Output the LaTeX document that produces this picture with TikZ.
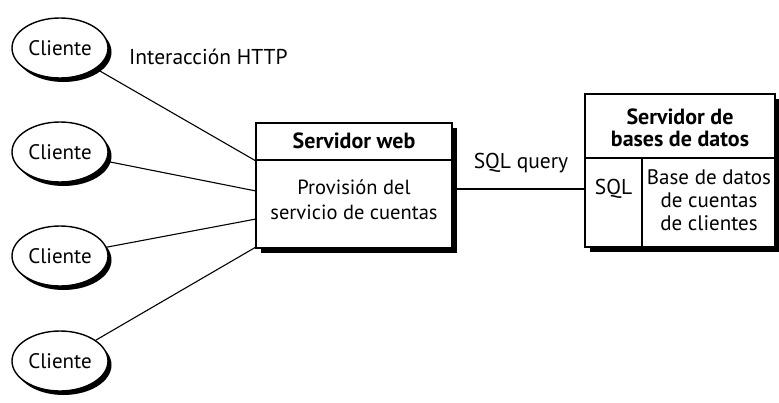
\documentclass[tikz,border=0pt]{standalone}
\usepackage{fontspec}
\setmainfont{PT Sans}
\usetikzlibrary{shadows,shapes.geometric}
\begin{document}
\begin{tikzpicture}[x=1pt,y=-1pt,
  client/.style={ellipse,draw,line width=1.4pt,fill=white,minimum width=96pt,minimum height=60pt,inner sep=0pt,
    font=\fontsize{21}{24}\selectfont,
    drop shadow={shadow xshift=3.5pt,shadow yshift=-4pt,fill=black,opacity=1}},
  srvbox/.style={rectangle,draw,line width=1.6pt,fill=white,inner sep=0pt,
    drop shadow={shadow xshift=5pt,shadow yshift=-4.5pt,fill=black,opacity=1}},
  head/.style={font=\fontsize{22}{22}\selectfont\bfseries,align=center,inner sep=0pt},
  body/.style={font=\fontsize{20.5}{25}\selectfont,align=center,inner sep=0pt},
  lbl/.style={font=\fontsize{21.5}{24}\selectfont,inner sep=0pt},
  link/.style={line width=1.1pt}]
\useasboundingbox (0,0) rectangle (779,402);

% clients
\node[client] (c1) at (60,48) {Cliente};
\node[client] (c2) at (60,152) {Cliente};
\node[client] (c3) at (60,256) {Cliente};
\node[client] (c4) at (60,361) {Cliente};

\node[lbl,anchor=west] (http) at (129,57) {Interacción HTTP};

% web server
\node[srvbox,minimum width=196pt,minimum height=125pt] (web) at (354,185.5) {};
\draw[line width=1.4pt] (web.west |- 0,160) -- (web.east |- 0,160);
\node[head] (webh) at (354,141) {Servidor web};
\node[body] (webb) at (354,200) {Provisión del\\servicio de cuentas};

% db server
\node[srvbox,minimum width=190pt,minimum height=153pt] (db) at (680,170.5) {};
\draw[line width=1.4pt] (db.west |- 0,158) -- (db.east |- 0,158);
\draw[line width=1.2pt] (642,158) -- (db.south -| 642,0);
\node[head] (dbh) at (680,128) {Servidor de\\bases de datos};
\node[lbl] (sql) at (613.5,189) {SQL};
\node[body,font=\fontsize{21}{23}\selectfont] (dbb) at (709,200) {Base de datos\\de cuentas\\de clientes};

% connection points on web box
\coordinate (p1) at (256,161);
\coordinate (p2) at (256,191);
\coordinate (p3) at (256,219);
\coordinate (p4) at (256,247);
\coordinate (wq) at (452,189);

\draw[link] (c1) -- (p1);
\draw[link] (c2) -- (p2);
\draw[link] (c3) -- (p3);
\draw[link] (c4) -- (p4);
\draw[link] (wq) -- (wq -| db.west);

\node[lbl] (sqlq) at (521,163) {SQL query};
\end{tikzpicture}
\end{document}
